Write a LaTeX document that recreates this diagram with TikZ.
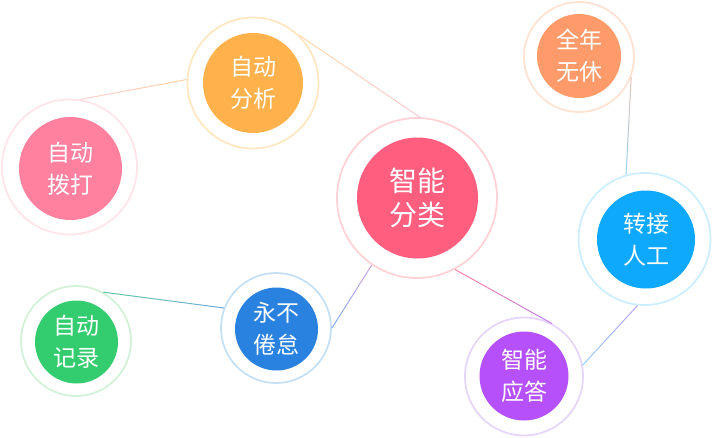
\documentclass[tikz,border=0pt]{standalone}
\usepackage{fontspec}
\setmainfont{Noto Sans CJK SC}
\usetikzlibrary{calc}
\definecolor{fxIn}{HTML}{FFB14C}\definecolor{fxOut}{HTML}{FFE7C2}
\definecolor{bdIn}{HTML}{FF809F}\definecolor{bdOut}{HTML}{FFE4E9}
\definecolor{flIn}{HTML}{FF5E7F}\definecolor{flOut}{HTML}{FFD3D6}
\definecolor{qnIn}{HTML}{FF9B6B}\definecolor{qnOut}{HTML}{FFE3D2}
\definecolor{zjIn}{HTML}{0EA8FD}\definecolor{zjOut}{HTML}{CDEEFF}
\definecolor{ybIn}{HTML}{2A82E0}\definecolor{ybOut}{HTML}{C6E0F5}
\definecolor{jlIn}{HTML}{33CD6F}\definecolor{jlOut}{HTML}{D2F2D8}
\definecolor{ydIn}{HTML}{B550FA}\definecolor{ydOut}{HTML}{E6D6FA}
\definecolor{lA1}{HTML}{FFD0D0}\definecolor{lB1}{HTML}{FFCFA0}
\definecolor{lA2}{HTML}{FFD9A8}\definecolor{lB2}{HTML}{FBC9D3}
\definecolor{lA3}{HTML}{E8C0B0}\definecolor{lB3}{HTML}{90D0F0}
\definecolor{lA4}{HTML}{60C8A0}\definecolor{lB4}{HTML}{6AA8E0}
\definecolor{lA5}{HTML}{7AB0F0}\definecolor{lB5}{HTML}{D0A0E0}
\definecolor{lA6}{HTML}{FF80A0}\definecolor{lB6}{HTML}{C080F0}
\definecolor{lA7}{HTML}{90D0FF}\definecolor{lB7}{HTML}{B8A0F5}
\newcommand\gline[4]{%
  \foreach \i in {0,...,23}{%
    \pgfmathsetmacro\ga{\i/24}%
    \pgfmathsetmacro\gb{(\i+1)/24}%
    \pgfmathtruncatemacro\gp{100-(\i+0.5)*100/24}%
    \draw[line width=1pt, color=#3!\gp!#4] ($(#1)!\ga!(#2)$) -- ($(#1)!\gb!(#2)$);
  }%
}
\tikzset{
  bub/.style={circle, fill=#1, text=white, inner sep=0pt, align=center},
  ring/.style={circle, draw=#1, line width=1.8pt, inner sep=0pt},
  small/.style={font=\fontsize{23}{32}\selectfont},
  big/.style={font=\fontsize{28}{34}\selectfont}
}
\begin{document}
\begin{tikzpicture}[x=1pt,y=-1pt]
\useasboundingbox (0,0) rectangle (712,437);
% rings
\node[ring=fxOut, minimum size=131pt] (fxr) at (253,83) {};
\node[ring=bdOut, minimum size=135pt] (bdr) at (69.5,167) {};
\node[ring=flOut, minimum size=160pt] (flr) at (417,198) {};
\node[ring=qnOut, minimum size=110pt] (qnr) at (579,57) {};
\node[ring=zjOut, minimum size=132pt] (zjr) at (644.5,239) {};
\node[ring=ybOut, minimum size=110pt] (ybr) at (276,328) {};
\node[ring=jlOut, minimum size=110pt] (jlr) at (76,341) {};
\node[ring=ydOut, minimum size=118pt] (ydr) at (524,376.5) {};
% bubbles
\node[bub=fxIn, small, minimum size=100pt] (fx) at (253,83) {自动\\分析};
\node[bub=bdIn, small, minimum size=103pt] (bd) at (70.5,168.5) {自动\\拨打};
\node[bub=flIn, big, minimum size=121pt] (fl) at (417.5,198) {智能\\分类};
\node[bub=qnIn, small, minimum size=84pt] (qn) at (579,56) {全年\\无休};
\node[bub=zjIn, small, minimum size=98pt] (zj) at (646,239.5) {转接\\人工};
\node[bub=ybIn, small, minimum size=83pt] (yb) at (276.5,329) {永不\\倦怠};
\node[bub=jlIn, small, minimum size=83pt] (jl) at (76.5,342) {自动\\记录};
\node[bub=ydIn, small, minimum size=89pt] (yd) at (524,376) {智能\\应答};
% connectors
\gline{bdr.81}{fxr.177}{lA1}{lB1}
\gline{fxr.46}{flr.88}{lA2}{lB2}
\gline{qnr.-21}{zjr.106}{lA3}{lB3}
\gline{jlr.61}{ybr.159}{lA4}{lB4}
\gline{ybr.0}{flr.236}{lA5}{lB5}
\gline{flr.-62}{ydr.62}{lA6}{lB6}
\gline{ydr.11}{zjr.264}{lA7}{lB7}
\end{tikzpicture}
\end{document}
